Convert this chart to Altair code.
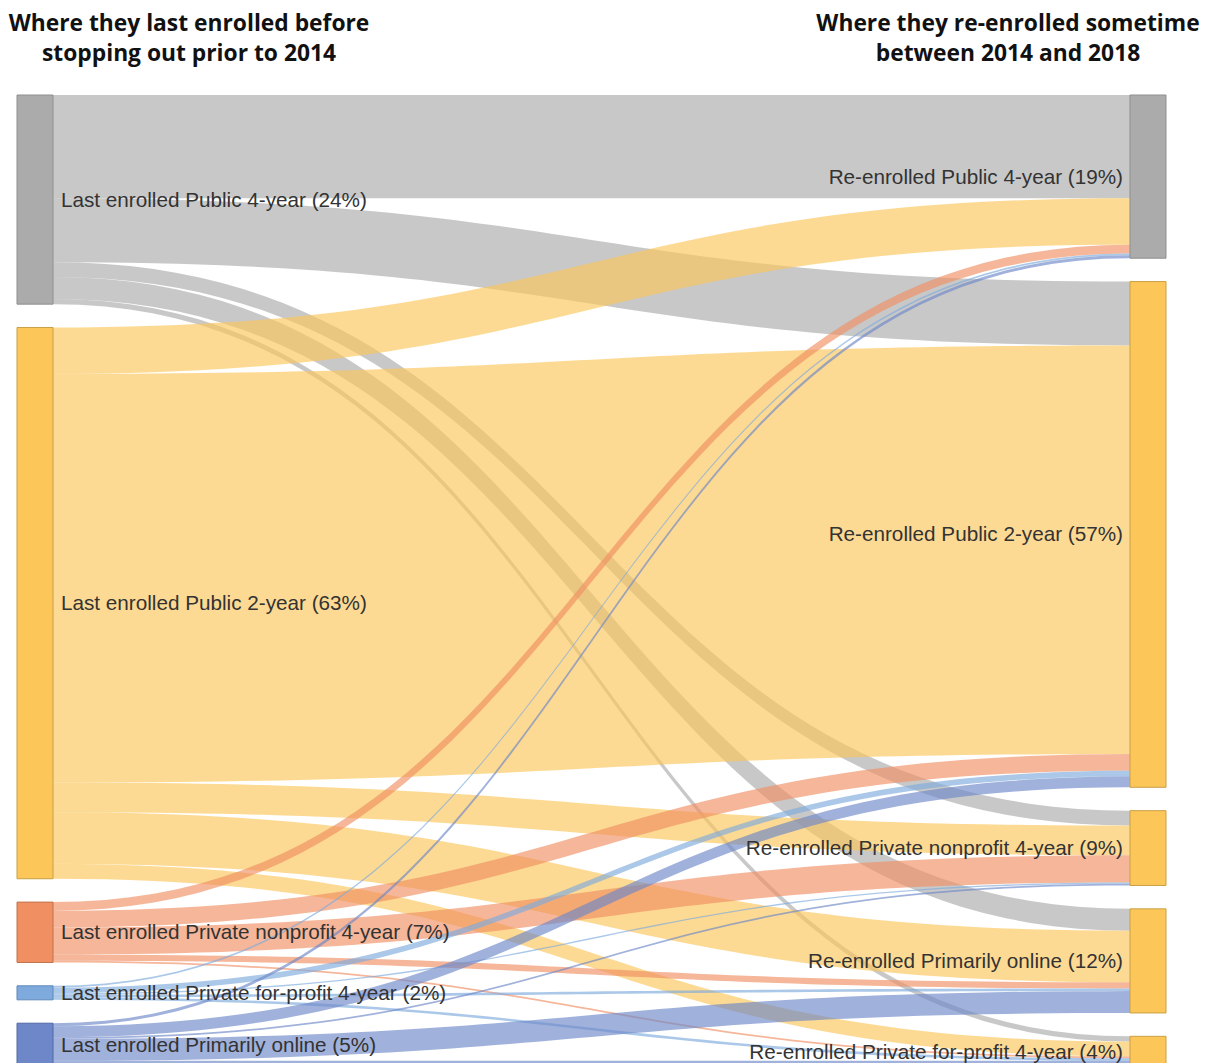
import altair as alt
import pandas as pd
import numpy as np

# ---------------- data ----------------
sources = [
    "Last enrolled Public 4-year (24%)",
    "Last enrolled Public 2-year (63%)",
    "Last enrolled Private nonprofit 4-year (7%)",
    "Last enrolled Private for-profit 4-year (2%)",
    "Last enrolled Primarily online (5%)",
]
targets = [
    "Re-enrolled Public 4-year (19%)",
    "Re-enrolled Public 2-year (57%)",
    "Re-enrolled Private nonprofit 4-year (9%)",
    "Re-enrolled Primarily online (12%)",
    "Re-enrolled Private for-profit 4-year (4%)",
]
# share of students (%) flowing from each source to the targets (in target order)
flow_public4 = [11.8, 7.3, 1.7, 2.5, 0.6]
flow_public2 = [5.3, 46.7, 3.4, 5.9, 1.7]
flow_nonprofit = [1.0, 1.9, 3.1, 0.7, 0.2]
flow_forprofit = [0.2, 0.65, 0.15, 0.3, 0.3]
flow_online = [0.35, 1.25, 0.2, 2.5, 0.7]

title_left = ["Where they last enrolled before", "stopping out prior to 2014"]
title_right = ["Where they re-enrolled sometime", "between 2014 and 2018"]

# ---------------- styles / layout ----------------
source_colors = ["#ababab", "#fcc659", "#ef8f62", "#7eaadd", "#6d87c8"]
source_strokes = ["#8f8f8f", "#c9a047", "#c0724e", "#5f88b8", "#5068a6"]
target_colors = ["#ababab", "#fcc659", "#fcc659", "#fcc659", "#fcc659"]
target_strokes = ["#8f8f8f", "#c9a047", "#c9a047", "#c9a047", "#c9a047"]

W, H = 1196, 1055
PX_PER_UNIT = 8.75
TOP_UNITS = 87 / PX_PER_UNIT
GAP = 2.67
XL0, XL1 = 9, 45          # left node column
XR0, XR1 = 1122, 1158     # right node column

flows = np.array([flow_public4, flow_public2, flow_nonprofit, flow_forprofit, flow_online])
src_tot = flows.sum(axis=1)
tgt_tot = flows.sum(axis=0)

src_top = np.concatenate([[0], np.cumsum(src_tot + GAP)[:-1]])
tgt_top = np.concatenate([[0], np.cumsum(tgt_tot + GAP)[:-1]])

nodes = []
for i, s in enumerate(sources):
    nodes.append(dict(name=s, x=XL0, x2=XL1, y=src_top[i], y2=src_top[i] + src_tot[i],
                      fill=source_colors[i], stroke=source_strokes[i]))
for j, t in enumerate(targets):
    nodes.append(dict(name=t, x=XR0, x2=XR1, y=tgt_top[j], y2=tgt_top[j] + tgt_tot[j],
                      fill=target_colors[j], stroke=target_strokes[j]))
nodes_df = pd.DataFrame(nodes)

# link bands (cubic bezier, control points at mid x)
src_off = src_top.copy()
tgt_off = tgt_top.copy()
src_start = np.zeros_like(flows)
tgt_start = np.zeros_like(flows)
for i in range(5):
    for j in range(5):
        src_start[i, j] = src_off[i]
        src_off[i] += flows[i, j]
for j in range(5):
    for i in range(5):
        tgt_start[i, j] = tgt_off[j]
        tgt_off[j] += flows[i, j]

ts = np.linspace(0, 1, 61)
xm = (XL1 + XR0) / 2
rows = []
order = 0
for i in range(5):
    for j in range(5):
        v = flows[i, j]
        if v <= 0:
            continue
        for t in ts:
            x = XL1 * (1 - t) ** 3 + 3 * xm * (1 - t) ** 2 * t + 3 * xm * (1 - t) * t ** 2 + XR0 * t ** 3
            s = 3 * t ** 2 - 2 * t ** 3
            y0 = src_start[i, j] + (tgt_start[i, j] - src_start[i, j]) * s
            rows.append(dict(link=f"{i}-{j}", order=order, source=sources[i], x=x, y=y0, y2=y0 + v))
        order += 1
links_df = pd.DataFrame(rows)

xscale = alt.Scale(domain=[0, W], range=[0, W], nice=False, zero=False)
yscale = alt.Scale(domain=[-TOP_UNITS, -TOP_UNITS + H / PX_PER_UNIT], reverse=True, nice=False, zero=False)

links = alt.Chart(links_df).mark_area(opacity=0.65, clip=True, interpolate="linear").encode(
    x=alt.X("x:Q", scale=xscale, axis=None),
    y=alt.Y("y:Q", scale=yscale, axis=None, stack=None),
    y2="y2:Q",
    detail="link:N",
    color=alt.Color("source:N", scale=alt.Scale(domain=sources, range=source_colors), legend=None),
    order="order:Q",
)

node_marks = alt.Chart(nodes_df).mark_rect(strokeWidth=1, clip=True).encode(
    x=alt.X("x:Q", scale=xscale, axis=None),
    x2="x2:Q",
    y=alt.Y("y:Q", scale=yscale, axis=None),
    y2="y2:Q",
    fill=alt.Fill("fill:N", scale=None),
    stroke=alt.Stroke("stroke:N", scale=None),
)

lab_df = pd.DataFrame({
    "label": sources,
    "y": src_top + src_tot / 2,
})
lab_r_df = pd.DataFrame({
    "label": targets,
    "y": tgt_top + tgt_tot / 2,
})
left_labels = alt.Chart(lab_df).mark_text(
    align="left", baseline="middle", font="Liberation Sans", fontSize=20.7, color="#333333", dx=8, dy=1
).encode(x=alt.value(XL1), y=alt.Y("y:Q", scale=yscale, axis=None), text="label:N")
right_labels = alt.Chart(lab_r_df).mark_text(
    align="right", baseline="middle", font="Liberation Sans", fontSize=20.7, color="#333333", dx=-7, dy=1
).encode(x=alt.value(XR0), y=alt.Y("y:Q", scale=yscale, axis=None), text="label:N")

tl_df = pd.DataFrame({"text": title_left + title_right,
                      "side": ["l", "l", "r", "r"],
                      "line": [0, 1, 0, 1]})
tl_left = alt.Chart(tl_df[tl_df.side == "l"]).mark_text(
    align="center", baseline="middle", font="Open Sans", fontWeight="bold", fontSize=22.8, color="#111111"
).encode(x=alt.value(181), y=alt.Y("line:Q", scale=alt.Scale(domain=[0, 1], range=[16, 46]), axis=None), text="text:N")
tl_right = alt.Chart(tl_df[tl_df.side == "r"]).mark_text(
    align="center", baseline="middle", font="Open Sans", fontWeight="bold", fontSize=22.8, color="#111111"
).encode(x=alt.value(1000), y=alt.Y("line:Q", scale=alt.Scale(domain=[0, 1], range=[16, 46]), axis=None), text="text:N")

chart = alt.layer(links, node_marks, left_labels, right_labels, tl_left, tl_right).resolve_scale(
    y="independent"
).properties(
    width=W, height=H, padding=0, autosize=alt.AutoSizeParams(type="none")
).configure_view(stroke=None)

chart.save("out.html", embed_options={"renderer": "svg", "actions": False})
